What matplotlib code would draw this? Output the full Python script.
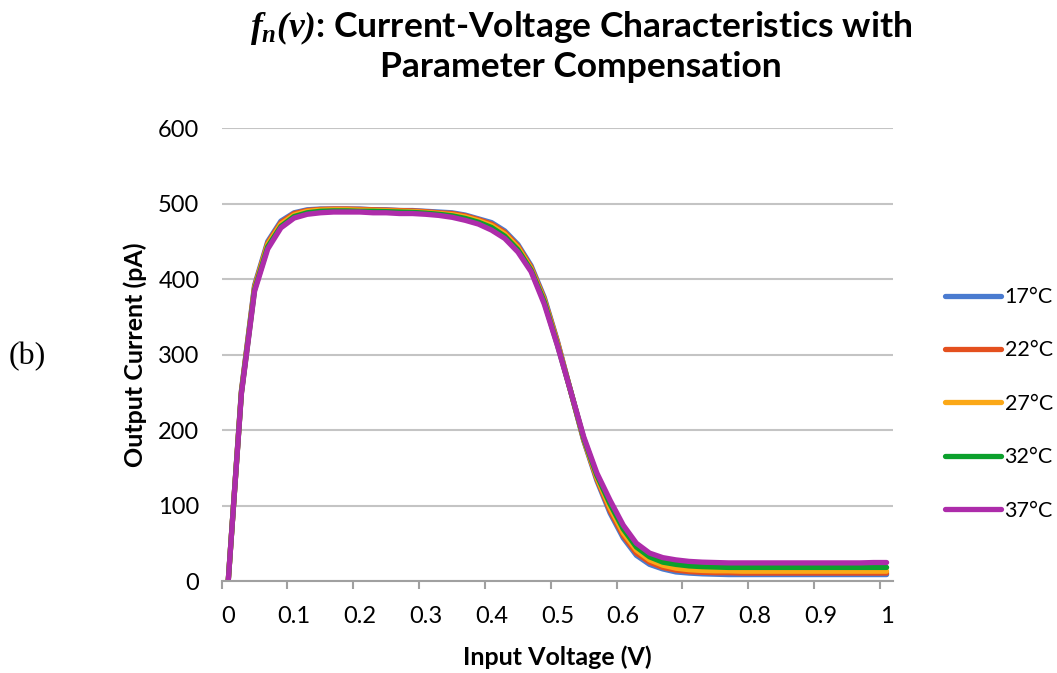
import numpy as np
import matplotlib
matplotlib.use("Agg")
import matplotlib.pyplot as plt

plt.rcParams['font.family'] = ['Lato', 'DejaVu Sans']
plt.rcParams['mathtext.fontset'] = 'custom'
plt.rcParams['mathtext.it'] = 'Liberation Serif:italic:bold'
plt.rcParams['mathtext.rm'] = 'Liberation Serif:italic:bold'

# --- data: input voltage 0..1 V, step 0.02 ---
voltage = [round(0.02 * i, 2) for i in range(51)]

i_17 = [0, 252, 392, 450, 477, 488, 492, 493, 493, 493,
        493, 492, 492, 491, 491, 490, 489, 488, 485, 480,
        475, 464, 446, 418, 376, 318, 252, 186, 133, 90,
        57, 34, 22, 16, 12, 10.5, 9.5, 9, 8.5, 8.5,
        8.5, 8.5, 8.5, 8.5, 8.5, 8.5, 8.5, 8.5, 8.5, 8.5, 8.5]
i_22 = [0, 251, 390, 448, 475, 487, 491, 492.5, 493, 493,
        492.5, 492, 491.5, 491, 490.5, 489.5, 488, 487, 484, 479,
        473, 462, 444, 416, 374, 317, 252, 187, 135, 93,
        60, 37, 25, 18, 14.5, 12.5, 11.5, 11, 11, 10.5,
        10.5, 10.5, 10.5, 10.5, 10.5, 10.5, 10.5, 10.5, 10.5, 10.5, 10.5]
i_27 = [0, 250, 388, 446, 473, 485, 490, 491.5, 492, 492,
        491.5, 491, 490.5, 490, 489.5, 488.5, 487, 485.5, 482.5, 477.5,
        471, 460, 442, 414, 372, 315, 252, 188, 137, 97,
        64, 41, 28, 21, 17, 15, 14, 13.5, 13.5, 13,
        13, 13, 13, 13, 13, 13, 13, 13, 13, 13, 13]
i_32 = [0, 249, 386, 443, 470, 483, 488, 490, 490.5, 490.5,
        490, 490, 489.5, 489, 488.5, 487.5, 486, 484, 480.5, 475.5,
        468.5, 457, 439, 412, 370, 313, 252, 189, 140, 102,
        69, 45, 32, 25, 22, 20, 19, 18.5, 18, 18,
        18, 18, 18, 18, 18, 18, 18, 18, 18, 18, 18]
i_37 = [0, 248, 384, 440, 468, 481, 486, 488, 489, 489,
        489, 488, 488, 487, 487, 486, 484.5, 482, 478, 473,
        465, 454, 436, 410, 367, 312, 252, 191, 143, 107,
        74, 50, 37, 31, 28, 26, 25, 24.5, 24, 24,
        24, 24, 24, 24, 24, 24, 24, 24, 24, 24.5, 24.5]

series = [i_17, i_22, i_27, i_32, i_37]
labels = ["17°C", "22°C", "27°C", "32°C", "37°C"]
colors = ["#4A7BD0", "#E4501E", "#FBA817", "#0BA02C", "#AD2CAA"]

xtick_vals = [round(0.1 * k, 1) for k in range(11)]
xtick_labels = ["0", "0.1", "0.2", "0.3", "0.4", "0.5", "0.6", "0.7", "0.8", "0.9", "1"]

fig = plt.figure(figsize=(10.57, 6.73), dpi=100)
ax = fig.add_axes([0.2097, 0.1367, 0.8450 - 0.2097, 0.8094 - 0.1367])

for y, lab, c in zip(series, labels, colors):
    ax.plot(voltage, y, color=c, lw=3.8, label=lab, solid_capstyle='round',
            solid_joinstyle='round')

ax.set_xlim(-0.01, 1.01)
ax.set_ylim(0, 600)
ax.set_yticks(range(0, 601, 100))
ax.yaxis.grid(True, color="#C4C4C4", lw=1.5)
ax.set_axisbelow(True)

ax.set_xticks(xtick_vals)
ax.set_xticklabels(xtick_labels)
ax.set_xticks([v - 0.01 for v in xtick_vals], minor=True)
ax.tick_params(axis='x', which='major', length=0, pad=18, labelsize=17)
ax.tick_params(axis='x', which='minor', length=6, width=1.5, color="#A0A0A0")
ax.tick_params(axis='y', length=0, pad=16, labelsize=17)

for s in ['top', 'right', 'left']:
    ax.spines[s].set_visible(False)
ax.spines['bottom'].set_color("#A0A0A0")
ax.spines['bottom'].set_linewidth(1.5)

ax.set_xlabel("Input Voltage (V)", fontsize=18, fontweight='bold', labelpad=13)
ax.set_ylabel("Output Current (pA)", fontsize=18, fontweight='bold', labelpad=8)

fig.text(0.55, 0.958, r"$f_n(v)$: Current-Voltage Characteristics with",
         ha='center', va='center', fontsize=25.5, fontweight='bold')
fig.text(0.55, 0.9, "Parameter Compensation",
         ha='center', va='center', fontsize=25.5, fontweight='bold')

fig.text(0.008, 0.47, "(b)", family='Liberation Serif', fontsize=23,
         ha='left', va='center')

fig.legend(loc='center left', bbox_to_anchor=(0.876, 0.40), frameon=False,
           fontsize=15.5, handlelength=2.6, handletextpad=0.15, labelspacing=1.55)

fig.savefig("out.png", dpi=100)
